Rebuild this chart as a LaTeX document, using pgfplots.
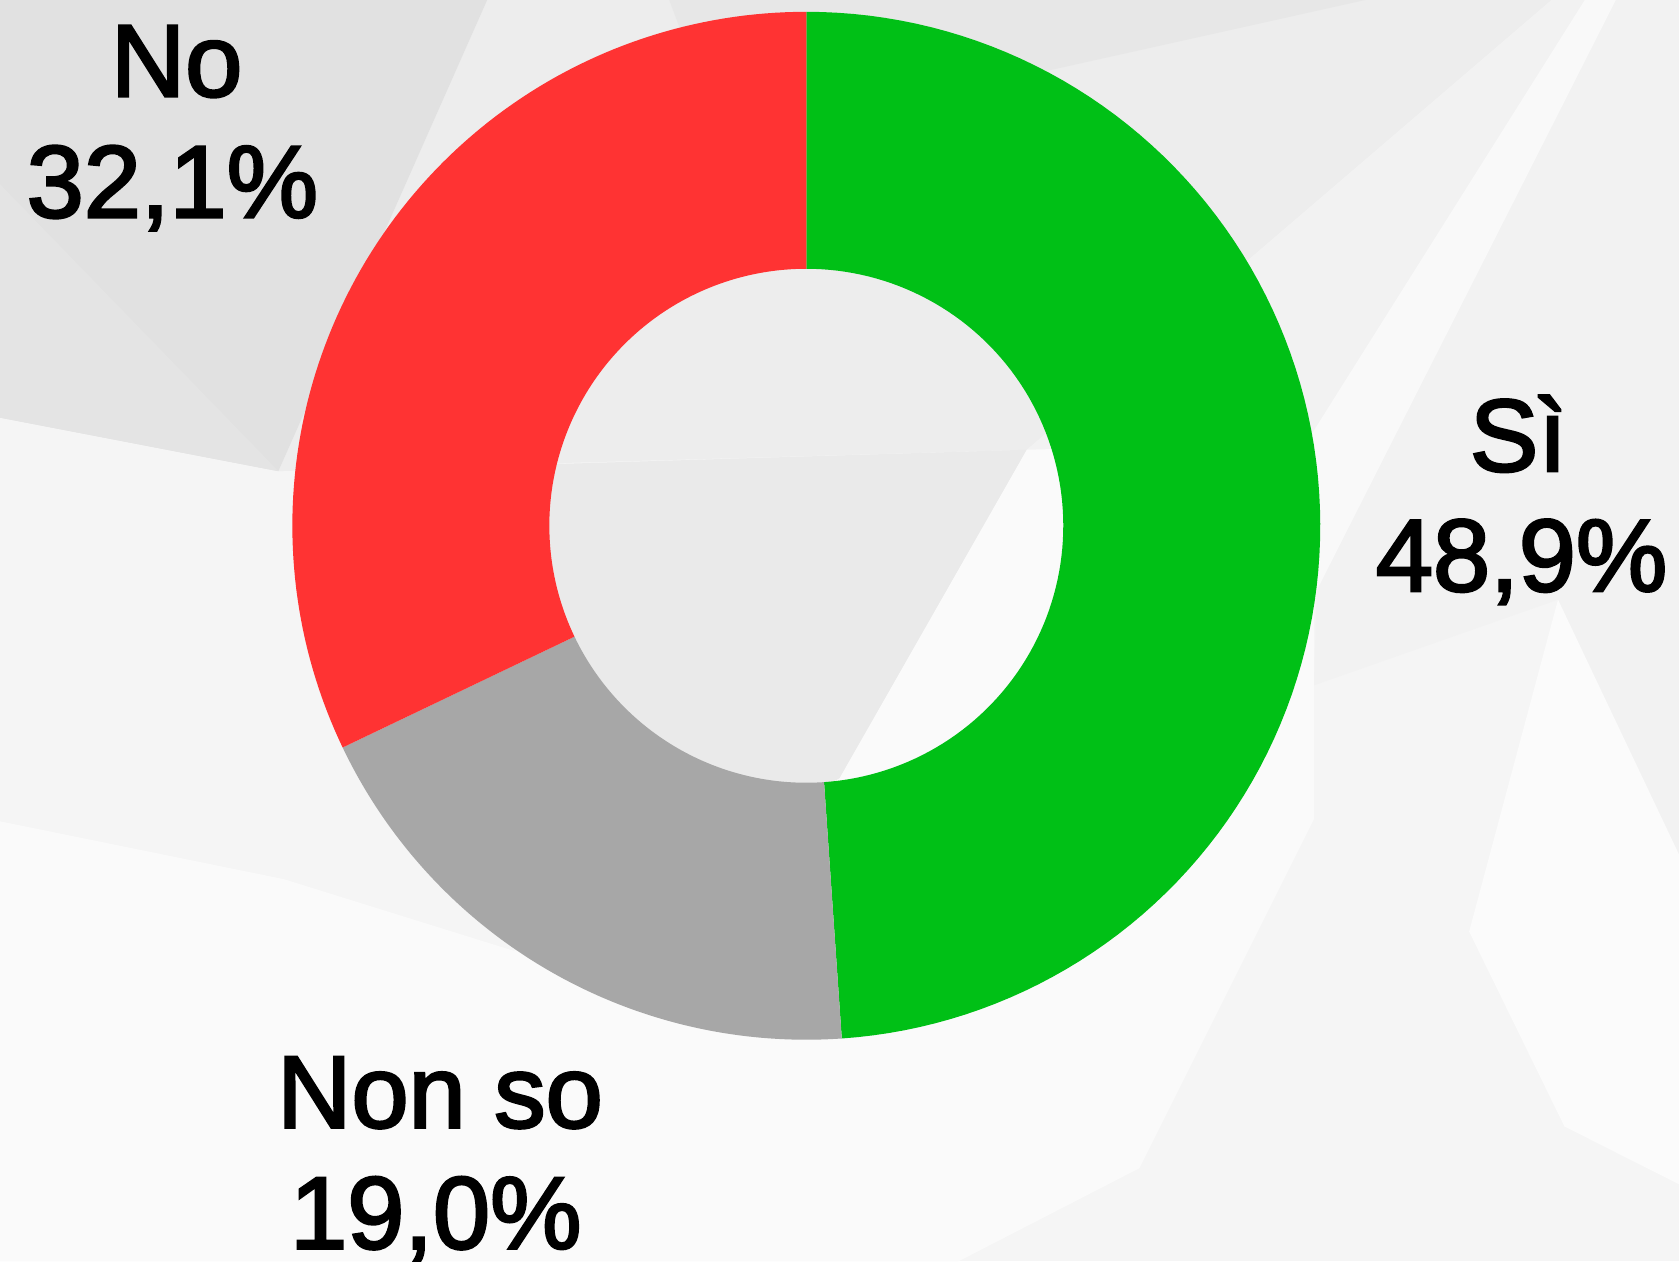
\documentclass[border=0pt]{standalone}
\usepackage{pgfplots}
\pgfplotsset{compat=1.18}
\usepackage{fontspec}
\setmainfont{Liberation Sans}
\newfontfamily\lblfont{Liberation Sans}[FakeBold=2.5]
\definecolor{siGreen}{HTML}{00C016}
\definecolor{noRed}{HTML}{FF3333}
\definecolor{nsGray}{HTML}{A7A7A7}
% survey shares (percent)
\def\vSi{48.9}
\def\vNonSo{19.0}
\def\vNo{32.1}
\pgfmathsetmacro{\aA}{90}
\pgfmathsetmacro{\aB}{90-3.6*\vSi}
\pgfmathsetmacro{\aC}{\aB-3.6*\vNonSo}
\pgfmathsetmacro{\aD}{\aC-3.6*\vNo}
\newcommand{\slice}[3]{%
\addplot[fill=#1, draw=none, domain=0:201, samples=202, variable=\t]
 ({753 + ((\t<100.5) ? 480 : 240)*cos((\t<100.5) ? (#2+(#3-#2)*\t/100) : (#3+(#2-#3)*(\t-101)/100))},
  {491 - ((\t<100.5) ? 480 : 240)*sin((\t<100.5) ? (#2+(#3-#2)*\t/100) : (#3+(#2-#3)*(\t-101)/100))}) -- cycle;}
\begin{document}
\begin{tikzpicture}
\begin{axis}[width=392pt, height=294.5pt, scale only axis,
  xmin=0, xmax=1568, ymin=0, ymax=1178, y dir=reverse,
  axis lines=none, clip=true]
% background low-poly shapes
\addplot[fill={rgb,255:red,245;green,245;blue,245}, draw=none] coordinates {(0,0)(1568,0)(1568,1178)(0,1178)} -- cycle;
\addplot[fill={rgb,255:red,237;green,237;blue,237}, draw=none] coordinates {(455,0)(1449,0)(959,420)(260,440)} -- cycle;
\addplot[fill={rgb,255:red,231;green,231;blue,231}, draw=none] coordinates {(625,0)(1275,0)(974,67)(640,40)} -- cycle;
\addplot[fill={rgb,255:red,225;green,225;blue,225}, draw=none] coordinates {(0,0)(455,0)(260,440)(0,390)} -- cycle;
\addplot[fill={rgb,255:red,228;green,228;blue,228}, draw=none] coordinates {(0,172)(260,440)(0,390)} -- cycle;
\addplot[fill={rgb,255:red,242;green,242;blue,242}, draw=none] coordinates {(1449,0)(1568,0)(1568,800)(1455,560)(1227,640)(1234,413)(959,420)} -- cycle;
\addplot[fill={rgb,255:red,249;green,249;blue,249}, draw=none] coordinates {(1480,0)(1509,0)(1200,610)(1200,445)} -- cycle;
\addplot[fill={rgb,255:red,234;green,234;blue,234}, draw=none] coordinates {(400,437)(959,420)(784,727)(560,840)(400,700)} -- cycle;
\addplot[fill={rgb,255:red,250;green,250;blue,250}, draw=none] coordinates {(0,767)(265,821)(480,888)(784,727)(959,420)(1227,413)(1227,765)(1064,1091)(895,1178)(0,1178)} -- cycle;
\addplot[fill={rgb,255:red,251;green,251;blue,251}, draw=none] coordinates {(1455,560)(1568,798)(1568,1106)(1461,1052)(1372,870)} -- cycle;
% donut slices
\slice{siGreen}{\aA}{\aB}
\slice{nsGray}{\aB}{\aC}
\slice{noRed}{\aC}{\aD}
% labels
\node[anchor=base, font=\lblfont\fontsize{24}{29}\selectfont] at (axis cs:165,90) {No};
\node[anchor=base, font=\lblfont\fontsize{24}{29}\selectfont] at (axis cs:161,203) {32,1\%};
\node[anchor=base, font=\lblfont\fontsize{24}{29}\selectfont] at (axis cs:1418,440) {Sì};
\node[anchor=base, font=\lblfont\fontsize{24}{29}\selectfont] at (axis cs:1421,552) {48,9\%};
\node[anchor=base, font=\lblfont\fontsize{24}{29}\selectfont] at (axis cs:411,1053) {Non so};
\node[anchor=base, font=\lblfont\fontsize{24}{29}\selectfont] at (axis cs:407,1166) {19,0\%};
\end{axis}
\pgfresetboundingbox
\path[use as bounding box] (current axis.south west) rectangle (current axis.north east);
\end{tikzpicture}
\end{document}
